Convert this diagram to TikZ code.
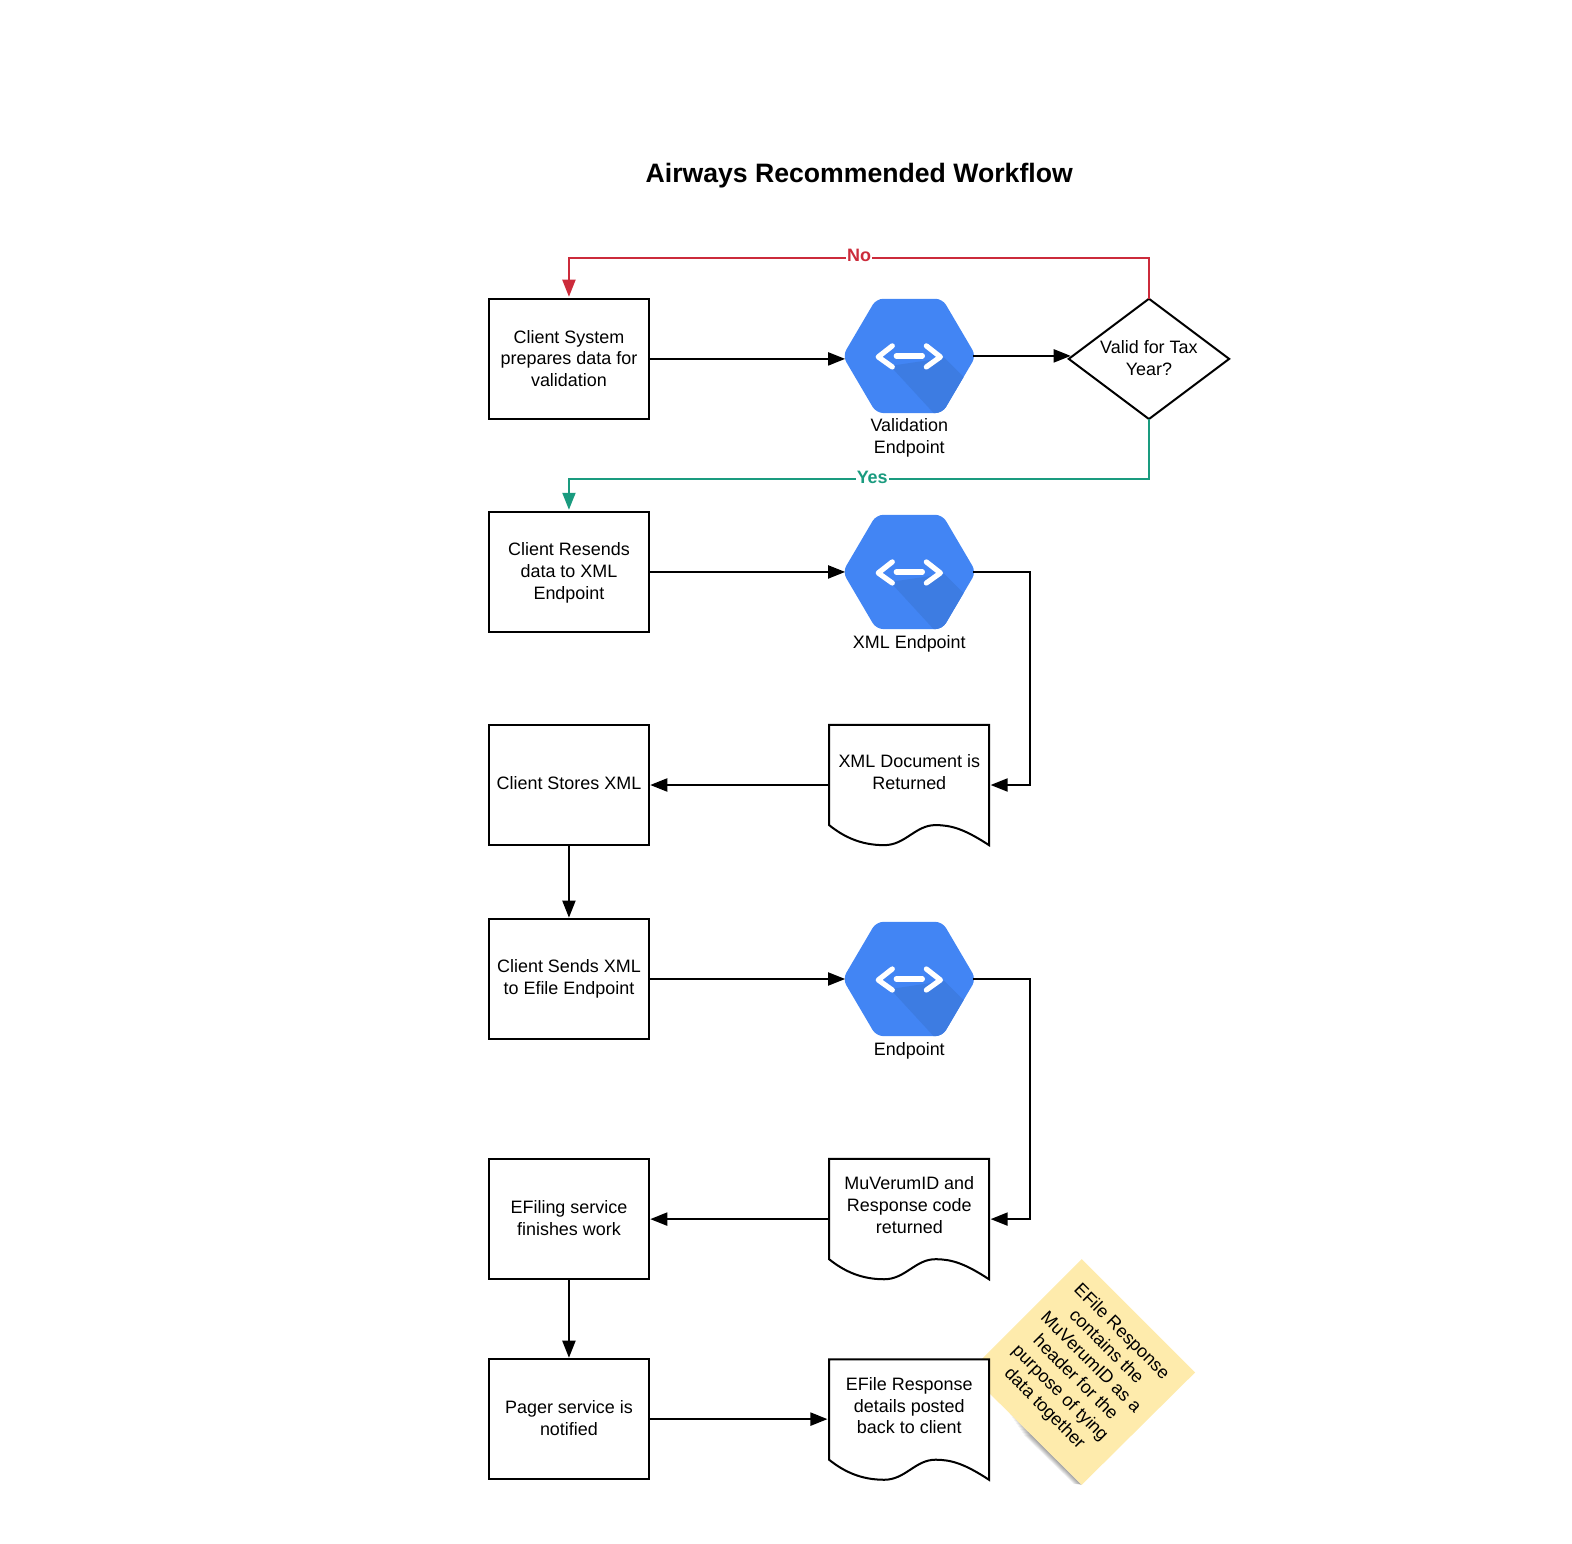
\documentclass[tikz,border=0pt]{standalone}
\usepackage{fontspec}
\setmainfont{Liberation Sans}
\usetikzlibrary{arrows.meta}
\definecolor{hexblue}{HTML}{4285F4}
\definecolor{hexdark}{HTML}{3D7CE2}
\definecolor{redline}{HTML}{CC2B3B}
\definecolor{greenline}{HTML}{1A9B7F}
\definecolor{stickyfill}{HTML}{FEEBAC}
\tikzset{
  x=0.5pt,y=-0.5pt,
  every node/.style={font=\fontsize{8.95}{10.85}\selectfont,align=center,inner sep=0pt,outer sep=0pt},
  boxnode/.style={draw=black,line width=1pt,minimum width=79.5pt,minimum height=60pt,rectangle},
  flow/.style={line width=1pt,draw=black,-{Triangle[length=8.5pt,width=6.5pt]}},
  edgelabel/.style={font=\fontsize{8.95}{10.85}\selectfont\bfseries,fill=white,inner xsep=0.5pt,inner ysep=0pt},
  iconline/.style={draw=white,line width=2.6pt,line cap=round,line join=round},
}
% hexagon endpoint: name, x, y
\newcommand{\hexicon}[3]{%
  \begin{scope}[shift={(#2,#3)}]
    \begin{scope}
      \clip[rounded corners=3.5pt] (-66.5,0) -- (-33,-57) -- (33,-57) -- (66.5,0) -- (33,57) -- (-33,57) -- cycle;
      \fill[hexblue] (-70,-60) rectangle (70,60);
      \fill[hexdark] (-19,10) -- (27,60) -- (70,60) -- (70,37) -- (35,2) -- cycle;
      \draw[iconline] (-17,-10) -- (-31,1) -- (-17,11);
      \draw[iconline] (17,-10) -- (31,1) -- (17,11);
      \draw[iconline] (-13,0) -- (13,0);
    \end{scope}
    \node[rectangle,minimum width=64pt,minimum height=57pt] (#1) at (0,0) {};
  \end{scope}}
% document shape: name, x(left), y(top)
\newcommand{\docshape}[3]{%
  \begin{scope}[shift={(#2,#3)}]
    \draw[fill=white,line width=1pt,line join=miter]
      (0,0) -- (159.5,0) -- (159.5,120)
      .. controls (135,104) and (122,100) .. (106,100)
      .. controls (86,100) and (76,120) .. (55,120)
      .. controls (32,120) and (15,112) .. (0,100) -- cycle;
    \node[rectangle,minimum width=79.75pt,minimum height=60pt] (#1) at (79.75,60) {};
  \end{scope}}
\begin{document}
\begin{tikzpicture}
\useasboundingbox (0,0) rectangle (1568,1540);
\node[font=\fontsize{13.28}{16}\selectfont\bfseries] (title) at (857,175) {Airways Recommended Workflow};
% sticky note
\foreach \i in {1,...,8}{
  \fill[black,opacity=0.06] (1079,1481) -- ({1079-\i},1480) -- ({1005+\i*3-\i},{1407+\i*3}) -- ({1005+\i*3},{1407+\i*3}) -- cycle;
}
\fill[stickyfill] (1079,1256) -- (1192,1369) -- (1079,1481) -- (966,1369) -- cycle;
\node[rotate=-45] (note) at (1080,1367) {EFile Response\\contains the\\MuVerumID as a\\header for the\\purpose of tying\\data together};
% process boxes
\node[boxnode] (b1) at (567.5,358) {};
\node (b1t) at (567.5,357.5) {Client System\\prepares data for\\validation};
\node[boxnode] (b2) at (567.5,570.5) {};
\node (b2t) at (567.5,571.5) {Client Resends\\data to XML\\Endpoint};
\node[boxnode] (b3) at (567.5,783) {};
\node (b3t) at (567.5,781.5) {Client Stores XML};
\node[boxnode] (b4) at (567.5,976.5) {};
\node (b4t) at (567.5,976) {Client Sends XML\\to Efile Endpoint};
\node[boxnode] (b5) at (567.5,1216) {};
\node (b5t) at (567.5,1215) {EFiling service\\finishes work};
\node[boxnode] (b6) at (567.5,1415.5) {};
\node (b6t) at (567.5,1414.5) {Pager service is\\notified};
% endpoints
\hexicon{h1}{907}{355}
\hexicon{h2}{907}{570.5}
\hexicon{h3}{907}{976.5}
\node (h1l) at (907,437) {Validation\\Endpoint};
\node (h2l) at (907,642) {XML Endpoint};
\node (h3l) at (907,1048) {Endpoint};
% decision
\node[rectangle,minimum width=80pt,minimum height=60pt] (d) at (1146,358) {};
\draw[line width=1pt,line join=miter] (d.west) -- (d.north) -- (d.east) -- (d.south) -- cycle;
\node (dt) at (1146,357) {Valid for Tax\\Year?};
% documents
\docshape{d1}{827}{723}
\node (d1t) at (907,770) {XML Document is\\Returned};
\docshape{d2}{827}{1156}
\node (d2t) at (907,1202) {MuVerumID and\\Response code\\returned};
\docshape{d3}{827}{1356}
\node (d3t) at (907,1402) {EFile Response\\details posted\\back to client};
% connectors
\coordinate (rail) at (1027,0);
\coordinate (topy) at (0,257);
\coordinate (midy) at (0,477.5);
\draw[flow] (b1.east) -- (b1.east -| h1.west);
\draw[flow,shorten >=-1pt] (h1.east) -- (h1.east -| d.west);
\draw[flow] (b2.east) -- (b2.east -| h2.west);
\draw[flow,shorten >=0.8pt] (h2.east) -- (h2.east -| rail) -- (d1.east -| rail) -- (d1.east);
\draw[flow,shorten >=0.8pt] (d1.west) -- (b3.east);
\draw[flow,shorten >=0.6pt] (b3.south) -- (b4.north);
\draw[flow] (b4.east) -- (b4.east -| h3.west);
\draw[flow,shorten >=0.8pt] (h3.east) -- (h3.east -| rail) -- (d2.east -| rail) -- (d2.east);
\draw[flow,shorten >=0.8pt] (d2.west) -- (b5.east);
\draw[flow,shorten >=0.6pt] (b5.south) -- (b6.north);
\draw[flow,shorten >=0.8pt] (b6.east) -- (b6.east -| d3.west);
\draw[flow,draw=redline,shorten >=1pt] (d.north) -- (d.north |- topy) -- (b1.north |- topy) -- (b1.north);
\draw[flow,draw=greenline,shorten >=1pt] (d.south) -- (d.south |- midy) -- (b2.north |- midy) -- (b2.north);
\node[edgelabel,text=redline] (no) at (857,255) {No};
\node[edgelabel,text=greenline] (yes) at (870,476) {Yes};
\end{tikzpicture}
\end{document}
